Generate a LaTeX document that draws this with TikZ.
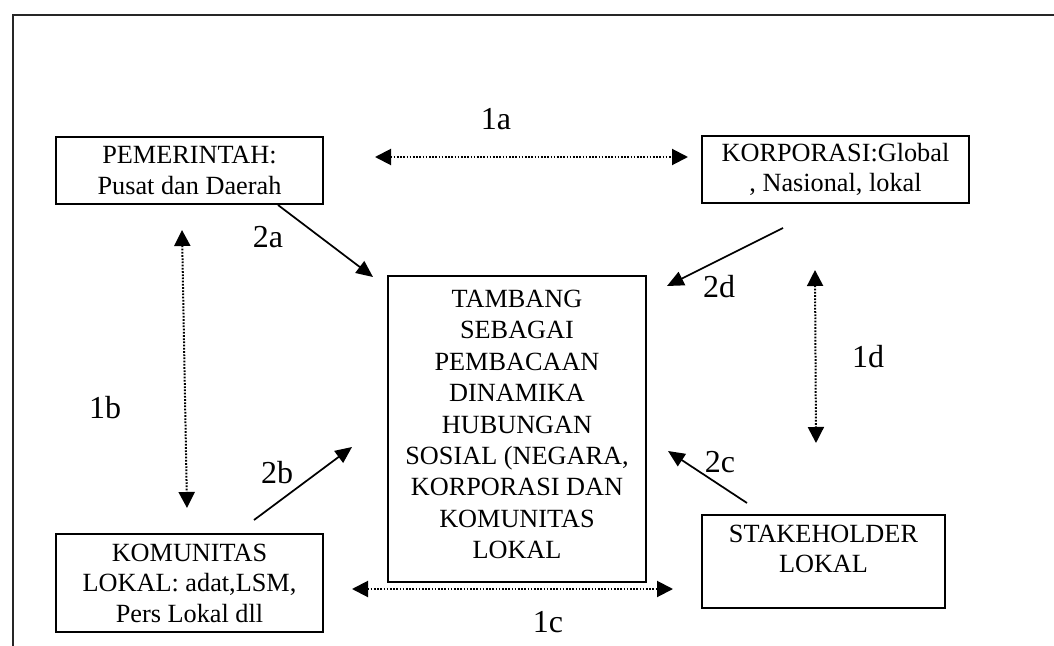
\documentclass[tikz,border=0pt]{standalone}
\usepackage{fontspec}
\setmainfont{Liberation Serif}
\usetikzlibrary{arrows.meta}
\begin{document}
\begin{tikzpicture}[x=0.75pt,y=-0.75pt,
  box/.style={draw, line width=1.4pt, align=center, inner sep=0pt,
    font=\fontsize{19.7}{22.9}\selectfont},
  lbl/.style={font=\fontsize{24}{28}\selectfont, inner sep=0pt},
  sarrow/.style={line width=1.3pt, -{Triangle[length=12.5pt,width=11pt]}},
  darrow/.style={line width=1.5pt, dash pattern=on 1.3pt off 1.1pt,
    {Triangle[length=12pt,width=12pt]}-{Triangle[length=12pt,width=12pt]}}]
\useasboundingbox (0,0) rectangle (1054,646);
% frame
\draw[line width=1.6pt, black!85] (1054,15) -- (13,15) -- (13,646);
% boxes
\node[box, minimum width=267*0.75pt, minimum height=67*0.75pt] (gov) at (189.5,170.5)
  {PEMERINTAH:\\Pusat dan Daerah};
\node[box, minimum width=267*0.75pt, minimum height=67*0.75pt] (korp) at (835.5,169.5)
  {KORPORASI:Global\\, Nasional, lokal};
\node[box, minimum width=258*0.75pt, minimum height=306*0.75pt,
  font=\fontsize{19.7}{23.6}\selectfont, text depth=7pt] (tamb) at (517,429)
  {TAMBANG\\SEBAGAI\\PEMBACAAN\\DINAMIKA\\HUBUNGAN\\SOSIAL (NEGARA,\\KORPORASI DAN\\KOMUNITAS\\LOKAL};
\node[box, minimum width=267*0.75pt, minimum height=98*0.75pt] (kom) at (189.5,583)
  {KOMUNITAS\\LOKAL: adat,LSM,\\Pers Lokal dll};
\node[box, minimum width=243*0.75pt, minimum height=93*0.75pt, text depth=18.75pt] (stake) at (823.5,561.5)
  {STAKEHOLDER\\LOKAL};
% arrow end points
\coordinate (a1l) at (375,157);
\coordinate (a1r) at (688,157);
\coordinate (b1t) at (182,230);
\coordinate (b1b) at (187,508);
\coordinate (c1l) at (352,589);
\coordinate (c1r) at (673,589);
\coordinate (d1t) at (815,270);
\coordinate (d1b) at (816,443);
\coordinate (a2s) at (278,205);
\coordinate (a2e) at (373,277);
\coordinate (d2s) at (783,228);
\coordinate (d2e) at (667,286);
\coordinate (b2s) at (254,520);
\coordinate (b2e) at (352,447);
\coordinate (c2s) at (747,503);
\coordinate (c2e) at (668,451);
% dotted two-way arrows
\draw[darrow] (a1l) -- (a1r);
\draw[darrow] (b1t) -- (b1b);
\draw[darrow] (c1l) -- (c1r);
\draw[darrow] (d1t) -- (d1b);
% solid arrows
\draw[sarrow] (a2s) -- (a2e);
\draw[sarrow] (d2s) -- (d2e);
\draw[sarrow] (b2s) -- (b2e);
\draw[sarrow] (c2s) -- (c2e);
% labels
\node[lbl] (l1a) at (496,119) {1a};
\node[lbl] (l1b) at (105,408) {1b};
\node[lbl] (l1c) at (548,622) {1c};
\node[lbl] (l1d) at (868,357) {1d};
\node[lbl] (l2a) at (268,237) {2a};
\node[lbl] (l2b) at (277,473) {2b};
\node[lbl] (l2c) at (720,462) {2c};
\node[lbl] (l2d) at (719,287) {2d};
\end{tikzpicture}
\end{document}
